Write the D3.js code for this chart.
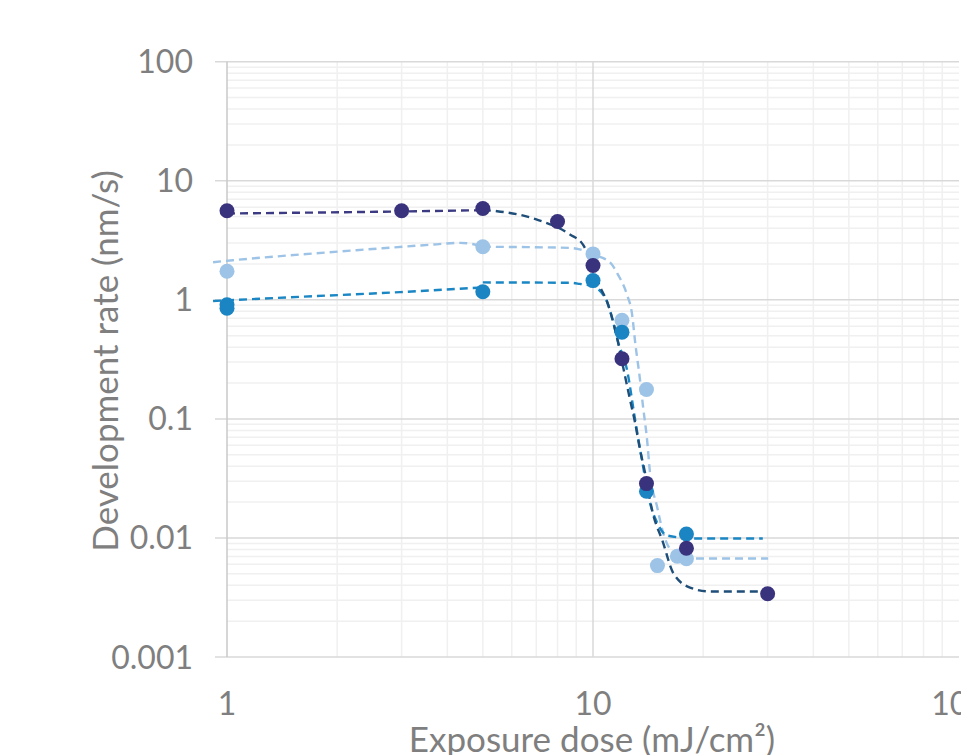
<!DOCTYPE html>
<html>
<head>
<meta charset="utf-8">
<script src="https://cdn.jsdelivr.net/npm/d3@7"></script>
<style>
  html, body { margin: 0; padding: 0; background: #fff; overflow: hidden; }
  svg { display: block; }
</style>
</head>
<body>
<div id="chart"></div>
<script>
// Measured points (exposure dose mJ/cm², development rate nm/s)
const darkDose = [1, 3, 5, 8, 10, 12, 14, 18, 30];
const darkRate = [5.6, 5.6, 5.85, 4.55, 1.94, 0.32, 0.0286, 0.0082, 0.0034];
const midDose = [1, 1, 5, 10, 12, 14, 18];
const midRate = [0.91, 0.85, 1.17, 1.45, 0.535, 0.0247, 0.0108];
const lightDose = [1, 5, 10, 12, 14, 15, 17, 18];
const lightRate = [1.74, 2.79, 2.43, 0.674, 0.1765, 0.00586, 0.00702, 0.00668];

// Dashed fit lines
const darkLowDose = [1, 2.97, 5];
const darkLowRate = [5.31, 5.52, 5.66];
const darkFitDose = [5, 5.47, 7.03, 8.65, 9.39, 10, 10.45, 10.92, 11.63, 12.08, 12.62, 13.03, 13.44, 13.87, 14.49, 15.54, 16.54, 18.41, 20.88, 29.9];
const darkFitRate = [5.68, 5.55, 4.72, 3.54, 2.91, 1.9, 1.29, 0.968, 0.482, 0.275, 0.1455, 0.093, 0.0553, 0.0354, 0.0173, 0.00914, 0.00512, 0.00383, 0.00355, 0.00355];

const midLowDose = [0.916, 1.58, 2.97, 4.33, 5];
const midLowRate = [0.977, 1.06, 1.16, 1.24, 1.27];
const midFitDose = [5, 8.65, 9.2, 10, 10.65, 10.92, 11.34, 11.7, 12.38, 13.03, 13.6, 14.31, 15.05, 15.93, 19.2, 29.1];
const midFitRate = [1.4, 1.39, 1.36, 1.3, 1.108, 0.968, 0.657, 0.447, 0.26, 0.0988, 0.0456, 0.0198, 0.013, 0.01048, 0.00988, 0.00988];

const lightLowDose = [0.916, 1.038, 1.58, 2.41, 3.65, 4.33, 5];
const lightLowRate = [2.07, 2.15, 2.4, 2.65, 2.91, 3.01, 2.82];
const lightFitDose = [5, 8.65, 9.2, 10, 11.13, 11.7, 12.38, 12.79, 13.03, 13.44, 13.7, 14.05, 14.31, 14.96, 15.54, 16.44, 18.06, 30.1];
const lightFitRate = [2.79, 2.73, 2.65, 2.4, 2.06, 1.63, 1.108, 0.752, 0.447, 0.214, 0.127, 0.067, 0.0354, 0.0184, 0.0111, 0.00769, 0.00672, 0.00672];

const yTickLabels = ["0.001", "0.01", "0.1", "1", "10", "100"];
const xTickLabels = ["1", "10", "100"];

const width = 961;
const height = 755;
const margin = { top: 61.7, right: 2, bottom: 98, left: 227 };
const font = "Lato, 'Open Sans', sans-serif";
const textColor = "#7f7f7f";

const x = d3.scaleLog()
    .domain([1, 100])
    .range([margin.left, width - margin.right]);

const y = d3.scaleLog()
    .domain([0.001, 100])
    .range([height - margin.bottom, margin.top]);

const svg = d3.select("#chart")
    .append("svg")
    .attr("width", width)
    .attr("height", height);

// Minor grid
svg.append("g")
    .selectAll("line")
    .data(y.ticks().filter(d => !yTickLabels.includes(String(+d.toPrecision(1)))))
    .join("line")
    .attr("x1", x(1)).attr("x2", x(100))
    .attr("y1", d => y(d)).attr("y2", d => y(d))
    .attr("stroke", "#f0f0f0").attr("stroke-width", 1.5);

svg.append("g")
    .selectAll("line")
    .data(x.ticks().filter(d => !xTickLabels.includes(String(+d.toPrecision(1)))))
    .join("line")
    .attr("x1", d => x(d)).attr("x2", d => x(d))
    .attr("y1", y(0.001)).attr("y2", y(100))
    .attr("stroke", "#f0f0f0").attr("stroke-width", 1.5);

// Major grid + y ticks
svg.append("g")
    .selectAll("line")
    .data(yTickLabels.map(Number))
    .join("line")
    .attr("x1", x(1) - 12).attr("x2", x(100))
    .attr("y1", d => y(d)).attr("y2", d => y(d))
    .attr("stroke", "#d9d9d9").attr("stroke-width", 1.5);

svg.append("line")
    .attr("x1", x(10)).attr("x2", x(10))
    .attr("y1", y(0.001)).attr("y2", y(100))
    .attr("stroke", "#d9d9d9").attr("stroke-width", 1.5);

// y axis line
svg.append("line")
    .attr("x1", x(1)).attr("x2", x(1))
    .attr("y1", y(0.001)).attr("y2", y(100))
    .attr("stroke", "#c9c9c9").attr("stroke-width", 1.5);

// Tick labels
svg.append("g")
    .selectAll("text")
    .data(yTickLabels)
    .join("text")
    .attr("x", 193)
    .attr("y", d => y(+d))
    .attr("dy", "0.36em")
    .attr("text-anchor", "end")
    .attr("font-family", font)
    .attr("font-size", "32px")
    .attr("fill", textColor)
    .text(d => d);

svg.append("g")
    .selectAll("text")
    .data(xTickLabels)
    .join("text")
    .attr("x", d => x(+d))
    .attr("y", 715)
    .attr("text-anchor", "middle")
    .attr("font-family", font)
    .attr("font-size", "32px")
    .attr("fill", textColor)
    .text(d => d);

// Axis titles
svg.append("text")
    .attr("transform", "translate(118,361) rotate(-90)")
    .attr("text-anchor", "middle")
    .attr("font-family", font)
    .attr("font-size", "35px")
    .attr("fill", textColor)
    .text("Development rate (nm/s)");

svg.append("text")
    .attr("x", 592)
    .attr("y", 752)
    .attr("text-anchor", "middle")
    .attr("font-family", font)
    .attr("font-size", "35px")
    .attr("fill", textColor)
    .text("Exposure dose (mJ/cm²)");

// Dashed lines
const line = d3.line()
    .x(d => x(d[0]))
    .y(d => y(d[1]))
    .curve(d3.curveMonotoneX);

const lines = [
    { dose: lightLowDose, rate: lightLowRate, color: "#9dc3e6" },
    { dose: lightFitDose, rate: lightFitRate, color: "#9dc3e6" },
    { dose: midLowDose, rate: midLowRate, color: "#1a86c4" },
    { dose: midFitDose, rate: midFitRate, color: "#1a86c4" },
    { dose: darkLowDose, rate: darkLowRate, color: "#3b3a82" },
    { dose: darkFitDose, rate: darkFitRate, color: "#1f4e79" }
];

svg.append("g")
    .selectAll("path")
    .data(lines)
    .join("path")
    .attr("d", d => line(d3.zip(d.dose, d.rate)))
    .attr("fill", "none")
    .attr("stroke", d => d.color)
    .attr("stroke-width", 2.4)
    .attr("stroke-dasharray", "8,5");

// Markers
const series = [
    { dose: lightDose, rate: lightRate, color: "#9dc3e6" },
    { dose: midDose, rate: midRate, color: "#1a85c2" },
    { dose: darkDose, rate: darkRate, color: "#39327c" }
];

series.forEach(s => {
    svg.append("g")
        .selectAll("circle")
        .data(d3.zip(s.dose, s.rate))
        .join("circle")
        .attr("cx", d => x(d[0]))
        .attr("cy", d => y(d[1]))
        .attr("r", 7.5)
        .attr("fill", s.color);
});
</script>
</body>
</html>
